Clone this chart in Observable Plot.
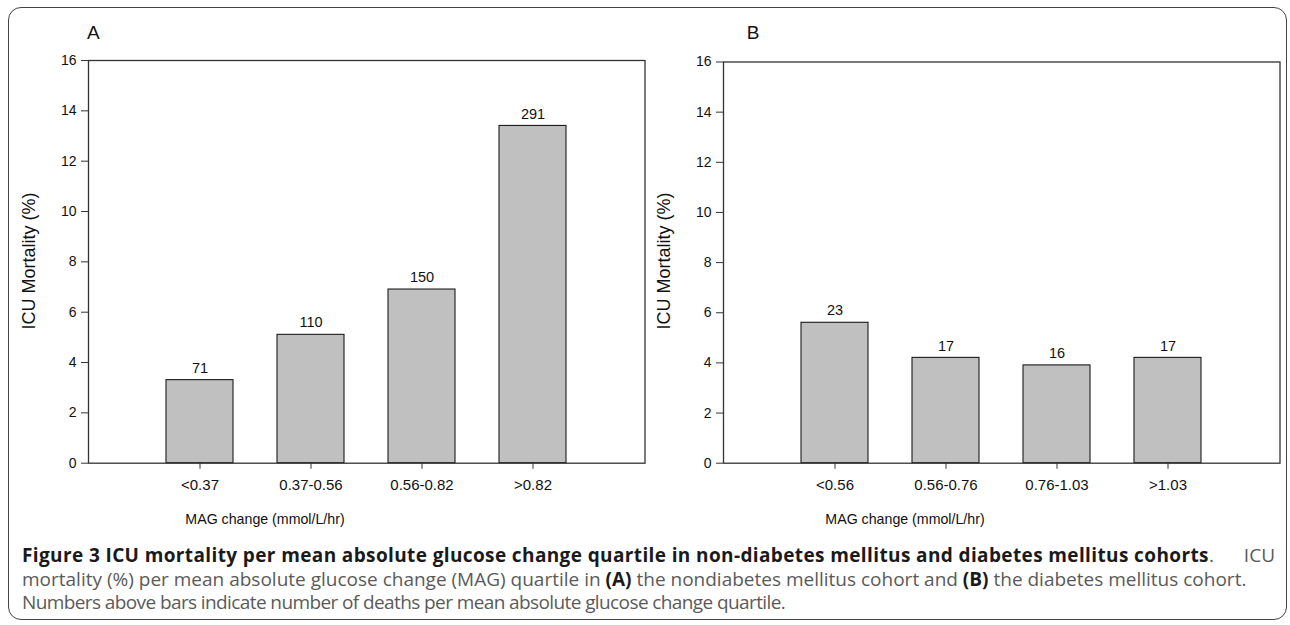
<!DOCTYPE html>
<html>
<head>
<meta charset="utf-8">
<script src="https://cdn.jsdelivr.net/npm/d3@7"></script>
<script src="https://cdn.jsdelivr.net/npm/@observablehq/plot@0.6"></script>
<style>
  html, body { margin: 0; padding: 0; background: #fff; }
  #wrap { position: relative; width: 1290px; height: 625px; overflow: hidden; background: #fff; }
  #border { position: absolute; left: 8px; top: 7px; width: 1279px; height: 613px; border: 1.5px solid #444; border-radius: 13px; box-sizing: border-box; }
  .panel { position: absolute; top: 0; }
  #overlay { position: absolute; left: 0; top: 0; }
  #caption { position: absolute; left: 22px; top: 544px; width: 1253px; font-family: "Open Sans", sans-serif; font-size: 19px; line-height: 23.5px; color: #5a5a5a; white-space: nowrap; }
  #caption b { color: #1a1a1a; font-weight: 700; }
  #caption .l1 { display: flex; }
  #caption .l1 b.title { letter-spacing: 0.38px; }
  #caption .l1 .end { margin-left: auto; }
  #caption .l3 { letter-spacing: -0.6px; }
</style>
</head>
<body>
<div id="wrap">
  <div id="border"></div>
  <div id="panelA" class="panel" style="left:0px"></div>
  <div id="panelB" class="panel" style="left:634.7px"></div>
  <svg id="overlay" width="1290" height="625" font-family="Liberation Sans, Arial, sans-serif" fill="#111">
    <text x="87" y="39" font-size="19">A</text>
    <text x="746.7" y="39" font-size="19">B</text>
    <text x="265" y="524" font-size="14.2" text-anchor="middle">MAG change (mmol/L/hr)</text>
    <text x="905" y="524" font-size="14.2" text-anchor="middle">MAG change (mmol/L/hr)</text>
    <text transform="translate(35,261) rotate(-90)" font-size="18" text-anchor="middle">ICU Mortality (%)</text>
    <text transform="translate(669.7,261) rotate(-90)" font-size="18" text-anchor="middle">ICU Mortality (%)</text>
  </svg>
  <div id="caption">
    <div class="l1"><span><b class="title">Figure 3 ICU mortality per mean absolute glucose change quartile in non-diabetes mellitus and diabetes mellitus cohorts</b>.</span><span class="end">ICU</span></div>
    <div>mortality (%) per mean absolute glucose change (MAG) quartile in <b>(A)</b> the nondiabetes mellitus cohort and <b>(B)</b> the diabetes mellitus cohort.</div>
    <div class="l3">Numbers above bars indicate number of deaths per mean absolute glucose change quartile.</div>
  </div>
</div>
<script>
// Panel A: non-diabetes mellitus cohort
const catsA = ["<0.37", "0.37-0.56", "0.56-0.82", ">0.82"];
const mortalityA = [3.3, 5.1, 6.9, 13.4];
const deathsA = [71, 110, 150, 291];

// Panel B: diabetes mellitus cohort
const catsB = ["<0.56", "0.56-0.76", "0.76-1.03", ">1.03"];
const mortalityB = [5.6, 4.2, 3.9, 4.2];
const deathsB = [23, 17, 16, 17];

const yTicks = [0, 2, 4, 6, 8, 10, 12, 14, 16];
const yDomain = [0, 16];

function panel(cats, vals, deaths, marginTop) {
  const data = cats.map((c, i) => ({cat: c, v: vals[i], n: deaths[i]}));
  return Plot.plot({
    width: 655,
    height: 500,
    marginLeft: 88,
    marginRight: 10.5,
    marginTop: marginTop,
    marginBottom: 37.3,
    style: {fontFamily: "Liberation Sans, Arial, sans-serif", color: "#111", background: "transparent", overflow: "visible"},
    x: {domain: cats, paddingInner: 0.4, paddingOuter: 0.7, label: null},
    y: {domain: yDomain, label: null},
    marks: [
      Plot.barY(data, {x: "cat", y: "v", fill: "#c0c0c0", stroke: "#1a1a1a", strokeWidth: 1.1}),
      Plot.text(data, {x: "cat", y: "v", text: "n", dy: -12, fontSize: 14.5, fill: "#111"}),
      Plot.frame({stroke: "#333", strokeWidth: 1.3}),
      Plot.axisX({tickSize: 6, tickPadding: 10, fontSize: 15, stroke: "#333", label: null}),
      Plot.axisY({ticks: yTicks, tickSize: 7, tickPadding: 5, fontSize: 14, stroke: "#333", label: null})
    ]
  });
}

document.getElementById("panelA").appendChild(panel(catsA, mortalityA, deathsA, 60));
document.getElementById("panelB").appendChild(panel(catsB, mortalityB, deathsB, 61.5));
</script>
</body>
</html>
